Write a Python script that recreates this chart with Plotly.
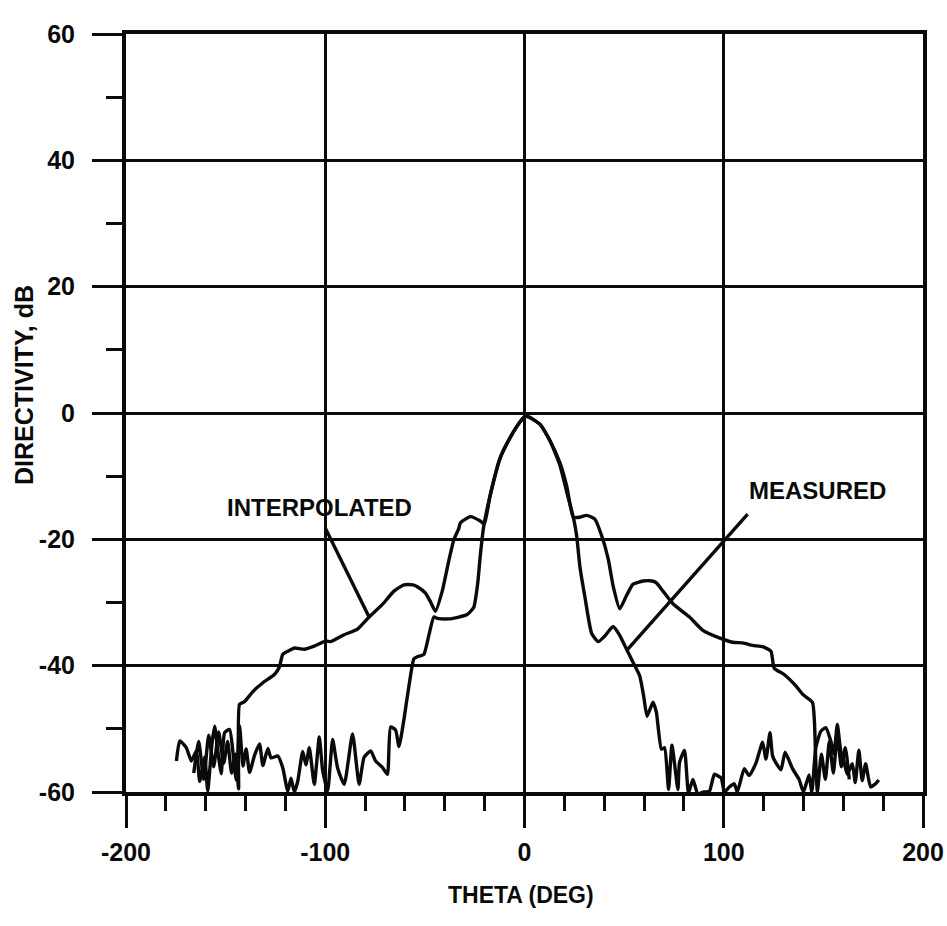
import plotly.graph_objects as go

# Measured directivity pattern (theta in degrees, directivity in dB)
theta_measured = [
    -174.7, -173.0, -169.7, -167.2, -164.7, -163.0, -160.5, -159.0, -156.8, -155.5,
    -154.0, -152.2, -150.5, -148.0, -146.3, -144.7, -143.0, -141.3, -139.7, -138.0,
    -135.5, -133.0, -131.3, -128.8, -127.2, -123.8, -121.3, -118.8, -117.2, -115.5,
    -113.8, -111.3, -109.7, -108.0, -105.5, -103.0, -101.3, -98.8, -96.3, -93.8,
    -90.5, -86.3, -83.0, -80.5, -77.2, -74.7, -71.3, -68.8, -67.2, -64.7,
    -63.0, -60.5, -58.0, -55.5, -53.8, -50.5, -48.0, -45.5, -43.8, -38.0,
    -33.0, -28.8, -25.5, -23.5, -22.2, -20.5, -17.2, -12.2, -7.2, -2.2,
    0.0, 2.0, 7.8, 12.8, 17.8, 21.2, 24.5, 26.2, 27.8, 30.3,
    33.7, 37.0, 40.3, 44.5, 47.8, 51.2, 54.5, 57.8, 59.8, 61.5,
    64.5, 66.2, 68.7, 70.3, 72.3, 74.0, 77.0, 77.8, 80.3, 82.3,
    84.5, 87.0, 90.0, 92.8, 95.3, 98.7, 100.3, 102.8, 105.3, 106.8,
    110.3, 112.8, 116.2, 119.5, 121.2, 123.2, 124.5, 126.2, 128.7, 130.8,
    134.5, 137.8, 140.0, 142.8, 144.2, 146.2, 148.7, 151.2, 153.7, 155.3,
    157.0, 158.7, 160.3, 162.0, 164.5, 166.0, 167.8, 169.5, 171.2, 173.7,
    176.2, 177.8,
]
db_measured = [
    -55.1, -51.9, -53.0, -55.1, -53.5, -58.3, -54.5, -59.8, -52.2, -49.6,
    -53.3, -57.1, -50.6, -50.1, -53.8, -58.1, -49.5, -55.9, -53.2, -56.9,
    -54.2, -52.4, -55.8, -53.1, -54.6, -54.3, -56.2, -59.9, -57.8, -60.0,
    -58.3, -53.6, -55.7, -53.0, -58.8, -51.3, -56.6, -59.8, -51.7, -56.2,
    -58.8, -50.8, -58.8, -54.5, -53.5, -55.1, -56.1, -57.2, -49.7, -50.2,
    -52.8, -48.5, -43.2, -38.9, -38.6, -38.2, -35.2, -32.3, -32.5, -32.6,
    -32.3, -31.9, -30.8, -27.0, -22.6, -18.0, -13.0, -7.1, -3.9, -1.4,
    -0.6, -0.6, -1.8, -4.4, -8.3, -12.5, -16.5, -19.5, -24.3, -29.1,
    -34.9, -36.2, -35.3, -33.8, -35.2, -37.4, -39.5, -41.6, -44.8, -48.0,
    -45.8, -47.4, -53.2, -53.0, -59.6, -52.6, -59.6, -55.3, -53.4, -60.2,
    -58.0, -60.3, -60.0, -59.9, -57.2, -57.8, -60.0, -59.2, -58.7, -60.0,
    -56.3, -57.4, -55.4, -52.1, -54.8, -50.6, -54.3, -55.4, -56.5, -53.7,
    -56.3, -58.0, -60.0, -57.3, -60.0, -53.0, -50.4, -49.8, -51.9, -54.0,
    -49.3, -53.5, -55.1, -57.2, -55.5, -58.5, -53.4, -58.2, -55.5, -59.2,
    -58.7, -58.1,
]

# Interpolated directivity pattern
theta_interp = [
    -166.0, -163.5, -161.0, -158.5, -156.0, -153.5, -151.0, -149.0, -147.0, -145.0,
    -143.5, -143.0, -140.5, -136.3, -131.3, -125.5, -123.0, -121.3, -118.0, -115.5,
    -110.5, -105.5, -99.7, -97.2, -90.5, -83.8, -78.0, -71.3, -65.5, -60.5,
    -56.0, -53.8, -49.7, -47.0, -44.7, -41.3, -38.0, -35.5, -33.0, -32.2,
    -27.2, -22.2, -20.2, -17.2, -12.2, -7.2, -2.2, 0.0, 2.0, 7.8,
    12.8, 17.8, 21.2, 24.5, 27.8, 31.2, 35.3, 38.7, 42.0, 44.5,
    47.8, 51.2, 54.5, 59.5, 64.0, 66.2, 69.5, 74.5, 82.8, 89.5,
    97.8, 104.5, 109.5, 114.5, 119.5, 123.7, 125.3, 130.3, 136.2, 139.5,
    144.5, 145.5, 146.2, 147.0, 149.0, 151.0, 153.0, 155.0, 157.0, 159.0,
    161.0, 163.0,
]
db_interp = [
    -57.0, -52.0, -58.0, -51.0, -56.0, -50.5, -55.5, -52.0, -57.0, -54.0,
    -59.5, -46.1, -45.7, -44.1, -42.7, -41.4, -40.2, -38.2, -37.6, -37.2,
    -37.4, -36.9, -36.1, -36.2, -35.1, -34.2, -32.3, -30.3, -28.2, -27.2,
    -27.2, -27.5, -28.5, -30.0, -31.4, -28.2, -23.4, -20.1, -18.3, -17.4,
    -16.4, -17.1, -17.6, -13.0, -7.1, -3.9, -1.4, -0.6, -0.6, -1.8,
    -4.4, -7.9, -11.6, -16.5, -16.5, -16.2, -16.8, -19.4, -23.1, -27.4,
    -31.0, -28.9, -27.1, -26.6, -26.6, -26.9, -28.2, -30.2, -32.3, -34.4,
    -35.6, -36.3, -36.4, -36.8, -37.0, -37.7, -40.4, -41.4, -43.2, -44.5,
    -45.8, -48.8, -55.2, -60.0, -54.0, -58.0, -52.0, -57.0, -51.0, -56.0,
    -53.0, -58.0,
]

# Axis ticks
x_tick_vals = [-200, -100, 0, 100, 200]
x_tick_text = ["-200", "-100", "0", "100", "200"]
y_tick_vals = [60, 40, 20, 0, -20, -40, -60]
y_tick_text = ["60", "40", "20", "0", "-20", "-40", "-60"]

# Curve labels: text position and leader line (start, end) in data units
label_interp = dict(text="INTERPOLATED", x=-103, y=-15.0, line=(-100, -18.2, -78, -32.3))
label_meas = dict(text="MEASURED", x=147, y=-12.3, line=(112, -16.0, 51.2, -37.6))

W, H = 947, 926
ML, MR, MT, MB = 126, 24, 34, 134
FONT = "Liberation Sans, Arial, Helvetica, sans-serif"
INK = "#0a0a0a"

fig = go.Figure()
fig.add_trace(go.Scatter(x=theta_interp, y=db_interp, mode="lines",
                         line=dict(color=INK, width=3.4, shape="spline", smoothing=0.5),
                         name="Interpolated", showlegend=False))
fig.add_trace(go.Scatter(x=theta_measured, y=db_measured, mode="lines",
                         line=dict(color=INK, width=3.4, shape="spline", smoothing=0.5),
                         name="Measured", showlegend=False))

for lab in (label_interp, label_meas):
    x0, y0, x1, y1 = lab["line"]
    fig.add_shape(type="line", xref="x", yref="y", x0=x0, y0=y0, x1=x1, y1=y1,
                  line=dict(color=INK, width=3.4))
    fig.add_annotation(x=lab["x"], y=lab["y"], xref="x", yref="y", text=lab["text"],
                       showarrow=False, xanchor="center", yanchor="middle",
                       font=dict(family=FONT, size=24, color=INK, weight="bold"))

plot_w = W - ML - MR
plot_h = H - MT - MB

# Axis titles
fig.add_annotation(text="THETA (DEG)", xref="paper", yref="paper",
                   x=(521 - ML) / plot_w, y=-(895 - (H - MB)) / plot_h,
                   showarrow=False, xanchor="center", yanchor="middle",
                   font=dict(family=FONT, size=23, color=INK, weight="bold"))
fig.add_annotation(text="DIRECTIVITY, dB", xref="paper", yref="paper",
                   x=-(ML - 24) / plot_w, y=((H - MB) - 385) / plot_h,
                   showarrow=False, xanchor="center", yanchor="middle", textangle=-90,
                   font=dict(family=FONT, size=25, color=INK, weight="bold"))

axis_common = dict(
    showgrid=True, gridcolor=INK, gridwidth=3,
    showline=True, linecolor=INK, linewidth=4, mirror=True,
    zeroline=False, ticks="outside", tickcolor=INK, tickwidth=3,
    tickfont=dict(family=FONT, size=25, color=INK, weight="bold"),
    ticklabeloverflow="allow", automargin=False,
)

fig.update_xaxes(range=[-200, 200], tickmode="array", tickvals=x_tick_vals,
                 ticktext=x_tick_text, ticklen=32, ticklabelstandoff=3,
                 minor=dict(dtick=20, tick0=0, ticks="outside", ticklen=15,
                            tickwidth=3, tickcolor=INK, showgrid=False),
                 **axis_common)
fig.update_yaxes(range=[-60, 60], tickmode="array", tickvals=y_tick_vals,
                 ticktext=y_tick_text, ticklen=30, ticklabelstandoff=12,
                 minor=dict(dtick=10, tick0=0, ticks="outside", ticklen=16,
                            tickwidth=3, tickcolor=INK, showgrid=False),
                 **axis_common)

fig.update_layout(
    width=W, height=H,
    margin=dict(l=ML, r=MR, t=MT, b=MB, autoexpand=False),
    paper_bgcolor="white", plot_bgcolor="white",
    showlegend=False,
)

fig.write_html("out.html")
